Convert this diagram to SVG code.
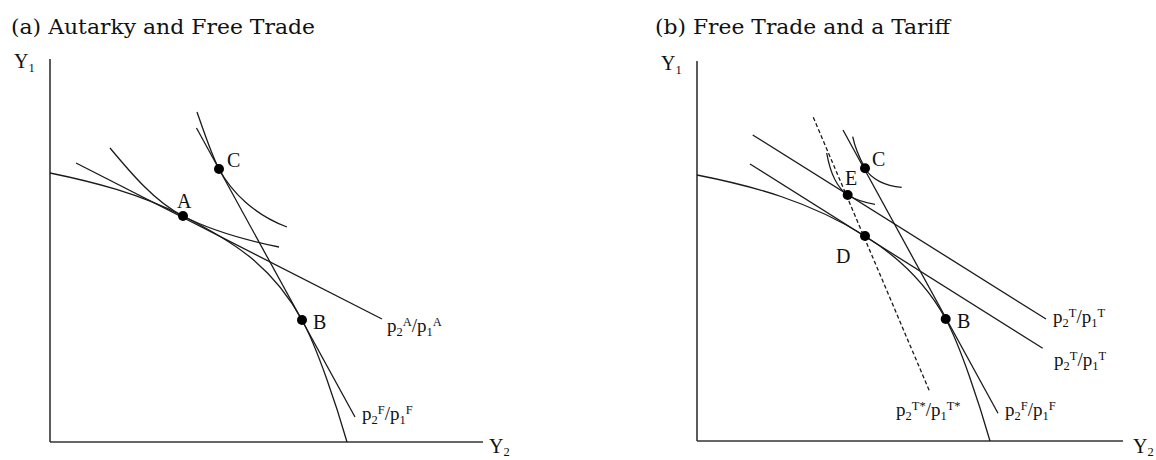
<svg xmlns="http://www.w3.org/2000/svg" width="1156" height="460" viewBox="0 0 1156 460">
<style>
.ax{stroke:#333;stroke-width:1.6;fill:none}
.ln{stroke:#1a1a1a;stroke-width:1.3;fill:none}
.dash{stroke:#1a1a1a;stroke-width:1.3;fill:none;stroke-dasharray:4 2.5}
.dot{fill:#000}
.title{font-family:"DejaVu Serif","Liberation Serif",serif;font-size:21px;fill:#111}
.lbl{font-family:"Liberation Serif","Times New Roman",serif;font-size:20px;fill:#111}
.pl{font-family:"Liberation Serif","Times New Roman",serif;font-size:19px;fill:#111}
.s{font-size:12.5px}
</style>
<rect width="1156" height="460" fill="#fff"/>
<text class="title" x="11" y="34" textLength="304" lengthAdjust="spacingAndGlyphs">(a) Autarky and Free Trade</text>
<text class="title" x="655" y="34" textLength="295" lengthAdjust="spacingAndGlyphs">(b) Free Trade and a Tariff</text>

<g id="axes-a">
<line class="ax" x1="50" y1="59" x2="50" y2="442"/>
<line class="ax" x1="50" y1="442" x2="483" y2="442"/>
<text class="lbl" x="14" y="68">Y<tspan class="s" dy="4">1</tspan></text>
<text class="lbl" x="489" y="453">Y<tspan class="s" dy="3">2</tspan></text>
</g>
<g id="axes-b">
<line class="ax" x1="697" y1="61" x2="697" y2="441"/>
<line class="ax" x1="697" y1="441" x2="1123" y2="441"/>
<text class="lbl" x="661" y="70">Y<tspan class="s" dy="4">1</tspan></text>
<text class="lbl" x="1133" y="453">Y<tspan class="s" dy="3">2</tspan></text>
</g>

<g id="connectors">
<path id="ppf-a" class="ln" d="M50,173 C94,182 139,193.6 183,216 C233,241.5 272,265.4 302,320 C317,347 337,407 347,442"/>
<path id="ic-a" class="ln" d="M110,148 C130,172 155,202 183,216 C210,230 245,240 279,247"/>
<path id="ic-c" class="ln" d="M197,112 C205,135 212,156 219,169 C232,193 255,215 287,227"/>
<line id="autarky-line" class="ln" x1="76" y1="163" x2="382" y2="319"/>
<line id="free-line-a" class="ln" x1="196.5" y1="128" x2="355" y2="417"/>
<path id="ppf-b" class="ln" d="M697,175 C753,186 809,201 865,236 C897,256 925.7,282.2 945.7,319 C960.7,346.6 980,406 990,441"/>
<path id="ic-c-b" class="ln" d="M852.7,136.7 C855,148 860,159 865,168.3 C871,179 885,186 901.7,187.3"/>
<path id="ic-e" class="ln" d="M826.7,153 C830,172 836,187 847.7,195 C858,201 866,203 875,204.3"/>
<line id="tariff-upper" class="ln" x1="752.7" y1="135" x2="1046" y2="319"/>
<line id="tariff-lower" class="ln" x1="750" y1="164" x2="1042.7" y2="348.3"/>
<line id="free-line-b" class="ln" x1="843" y1="130" x2="998" y2="413.3"/>
<line id="world-tariff" class="dash" x1="813.3" y1="117.3" x2="929.3" y2="390.7"/>
</g>

<g id="node-A"><circle class="dot" cx="183" cy="216" r="5"/><text class="lbl" x="177" y="208">A</text></g>
<g id="node-B-a"><circle class="dot" cx="302" cy="320" r="5"/><text class="lbl" x="313" y="329">B</text></g>
<g id="node-C-a"><circle class="dot" cx="219" cy="169" r="5"/><text class="lbl" x="227" y="167">C</text></g>

<g id="node-C-b"><circle class="dot" cx="865" cy="168.3" r="5"/><text class="lbl" x="872" y="166">C</text></g>
<g id="node-E"><circle class="dot" cx="847.7" cy="195" r="5"/><text class="lbl" x="845" y="185">E</text></g>
<g id="node-D"><circle class="dot" cx="865" cy="236" r="5"/><text class="lbl" x="836" y="263">D</text></g>
<g id="node-B-b"><circle class="dot" cx="945.7" cy="319" r="5"/><text class="lbl" x="957" y="328">B</text></g>

<g id="labels">
<text class="pl" x="387" y="332">p<tspan class="s" dy="4">2</tspan><tspan class="s" dy="-10">A</tspan><tspan dy="6">/p</tspan><tspan class="s" dy="4">1</tspan><tspan class="s" dy="-10">A</tspan></text>
<text class="pl" x="362" y="420">p<tspan class="s" dy="4">2</tspan><tspan class="s" dy="-10">F</tspan><tspan dy="6">/p</tspan><tspan class="s" dy="4">1</tspan><tspan class="s" dy="-10">F</tspan></text>
<text class="pl" x="1053" y="323">p<tspan class="s" dy="4">2</tspan><tspan class="s" dy="-10">T</tspan><tspan dy="6">/p</tspan><tspan class="s" dy="4">1</tspan><tspan class="s" dy="-10">T</tspan></text>
<text class="pl" x="1054" y="366">p<tspan class="s" dy="4">2</tspan><tspan class="s" dy="-10">T</tspan><tspan dy="6">/p</tspan><tspan class="s" dy="4">1</tspan><tspan class="s" dy="-10">T</tspan></text>
<text class="pl" x="896" y="416">p<tspan class="s" dy="4">2</tspan><tspan class="s" dy="-10">T*</tspan><tspan dy="6">/p</tspan><tspan class="s" dy="4">1</tspan><tspan class="s" dy="-10">T*</tspan></text>
<text class="pl" x="1005" y="416">p<tspan class="s" dy="4">2</tspan><tspan class="s" dy="-10">F</tspan><tspan dy="6">/p</tspan><tspan class="s" dy="4">1</tspan><tspan class="s" dy="-10">F</tspan></text>
</g>
</svg>
